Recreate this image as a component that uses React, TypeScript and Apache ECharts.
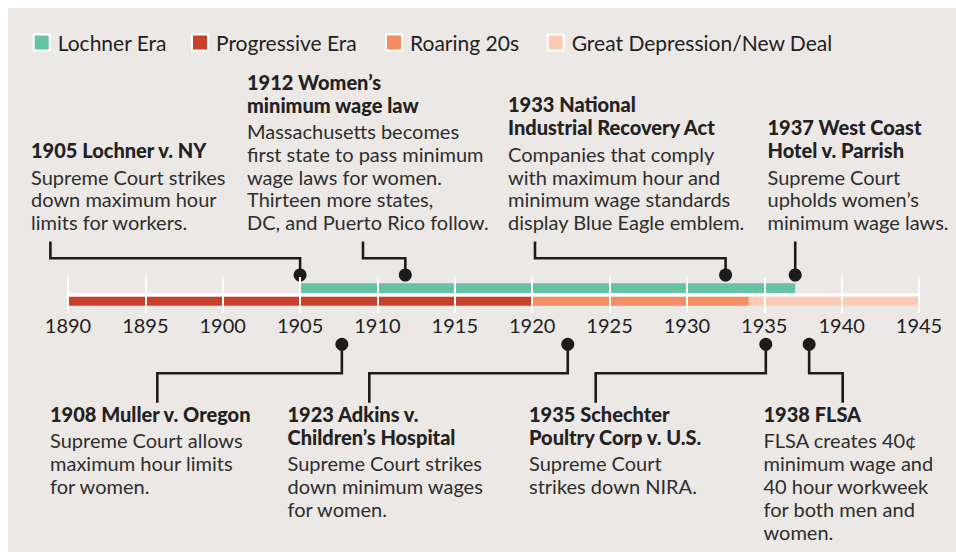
import React, { useEffect, useRef } from "react";
import * as echarts from "echarts";

// ---------- data ----------
const yearMin = 1890;
const yearMax = 1945;
const yearStep = 5;

const eraNames = ["Lochner Era", "Progressive Era", "Roaring 20s", "Great Depression/New Deal"];
const eraStarts = [1905, 1890, 1920, 1934];
const eraEnds = [1937, 1920, 1934, 1945];
const eraRows = [0, 1, 1, 1]; // 0 = upper band, 1 = lower band
const eraColors = ["#66c2a5", "#c8412b", "#f58d64", "#fbcab5"];

const eventYears = [1905.0, 1911.8, 1932.5, 1937.0, 1907.7, 1922.3, 1935.1, 1937.9];
const eventSides = ["top", "top", "top", "top", "bottom", "bottom", "bottom", "bottom"];
const eventTitles = [
  ["1905 Lochner v. NY"],
  ["1912 Women\u2019s", "minimum wage law"],
  ["1933 National", "Industrial Recovery Act"],
  ["1937 West Coast", "Hotel v. Parrish"],
  ["1908 Muller v. Oregon"],
  ["1923 Adkins v.", "Children\u2019s Hospital"],
  ["1935 Schechter", "Poultry Corp v. U.S."],
  ["1938 FLSA"],
];
const eventDescs = [
  ["Supreme Court strikes", "down maximum hour", "limits for workers."],
  ["Massachusetts becomes", "first state to pass minimum", "wage laws for women.", "Thirteen more states,", "DC, and Puerto Rico follow."],
  ["Companies that comply", "with maximum hour and", "minimum wage standards", "display Blue Eagle emblem."],
  ["Supreme Court", "upholds women\u2019s", "minimum wage laws."],
  ["Supreme Court allows", "maximum hour limits", "for women."],
  ["Supreme Court strikes", "down minimum wages", "for women."],
  ["Supreme Court", "strikes down NIRA."],
  ["FLSA creates 40\u00a2", "minimum wage and", "40 hour workweek", "for both men and", "women."],
];

// ---------- layout (pixels inside the chart div) ----------
const W = 948;
const H = 544;
const eventTextX = [23, 239, 500, 759.5, 42, 279.5, 521, 755.5];
const eventElbowX = [42.4, 355, 527, null, 149.3, 361.3, 587.7, 834.7];
const legendLeft = [24.7, 183, 377, 538.7];
const FONT = "Lato";

export default function App() {
  const ref = useRef<HTMLDivElement>(null);

  useEffect(() => {
    if (!ref.current) return;
    const chart = echarts.init(ref.current, null, { renderer: "svg" });

    const gridTop = 269;
    const gridH = 36;
    const upperBand = [6.3, 9.6];
    const lowerBand = [19.6, 9.2];
    const whiteLine = [16.2, 3.2];

    const eraSeries = eraNames.map((name, i) => ({
      type: "custom",
      name,
      itemStyle: { color: eraColors[i] },
      data: [[eraStarts[i], eraEnds[i], eraRows[i]]],
      encode: { x: [0, 1] },
      z: 2,
      renderItem: (params: any, api: any) => {
        const s = api.coord([api.value(0), 0]);
        const e = api.coord([api.value(1), 0]);
        const cs = params.coordSys;
        const band = api.value(2) === 0 ? upperBand : lowerBand;
        return {
          type: "rect",
          shape: { x: s[0], y: cs.y + band[0], width: e[0] - s[0], height: band[1] },
          style: { fill: api.visual("color") },
        };
      },
    }));

    const baselineSeries = {
      type: "custom",
      name: "baseline",
      data: [[yearMin, yearMax]],
      encode: { x: [0, 1] },
      z: 3,
      silent: true,
      renderItem: (params: any, api: any) => {
        const s = api.coord([api.value(0), 0]);
        const e = api.coord([api.value(1), 0]);
        const cs = params.coordSys;
        return {
          type: "rect",
          shape: { x: s[0], y: cs.y + whiteLine[0], width: e[0] - s[0], height: whiteLine[1] },
          style: { fill: "#ffffff" },
        };
      },
    };

    const topDotY = 267;
    const bottomDotY = 336.3;
    const topElbowY = 250.3;
    const topEndY = 233.5;
    const bottomElbowY = 365.3;
    const bottomEndY = 394.7;
    const topLastBaseline = 222;
    const bottomFirstBaseline = 413.7;
    const titleLH = 23;
    const descLH = 22.8;
    const titleGap = 26.5;
    const fs = 20;
    const baseOff = 0.387 * fs;
    const lineColor = "#1c1c1c";

    const eventSeries = {
      type: "custom",
      name: "events",
      data: eventYears.map((y, i) => [y, i]),
      encode: { x: 0 },
      z: 5,
      clip: false,
      silent: true,
      renderItem: (params: any, api: any) => {
        const i = api.value(1);
        const x = api.coord([api.value(0), 0])[0];
        const top = eventSides[i] === "top";
        const titles = eventTitles[i];
        const descs = eventDescs[i];
        const nT = titles.length;
        const nD = descs.length;
        const ex = eventElbowX[i] == null ? x : (eventElbowX[i] as number);
        let titleFirst: number;
        let descFirst: number;
        let pts: number[][];
        if (top) {
          descFirst = topLastBaseline - (nD - 1) * descLH;
          titleFirst = descFirst - titleGap - (nT - 1) * titleLH;
          pts = eventElbowX[i] == null
            ? [[x, topDotY], [x, topEndY]]
            : [[x, topDotY], [x, topElbowY], [ex, topElbowY], [ex, topEndY]];
        } else {
          titleFirst = bottomFirstBaseline;
          descFirst = titleFirst + (nT - 1) * titleLH + titleGap;
          pts = [[x, bottomDotY], [x, bottomElbowY], [ex, bottomElbowY], [ex, bottomEndY]];
        }
        const dotY = top ? topDotY : bottomDotY;
        const tx = eventTextX[i];
        return {
          type: "group",
          children: [
            {
              type: "polyline",
              shape: { points: pts },
              style: { stroke: lineColor, lineWidth: 2.6, fill: "none" },
            },
            {
              type: "circle",
              shape: { cx: x, cy: dotY, r: 6.5 },
              style: { fill: lineColor },
            },
            {
              type: "text",
              x: tx,
              y: titleFirst - baseOff - titleLH / 2,
              style: {
                text: titles.join("\n"),
                fontFamily: FONT,
                fontWeight: 900,
                fontSize: fs,
                lineHeight: titleLH,
                fill: "#222222",
                align: "left",
                verticalAlign: "top",
              },
            },
            {
              type: "text",
              x: tx,
              y: descFirst - baseOff - descLH / 2,
              style: {
                text: descs.join("\n"),
                fontFamily: FONT,
                fontSize: fs,
                lineHeight: descLH,
                fill: "#2e2e2e",
                align: "left",
                verticalAlign: "top",
              },
            },
          ],
        };
      },
    };

    chart.setOption({
      animation: false,
      backgroundColor: "#ece8e5",
      textStyle: { fontFamily: FONT },
      legend: eraNames.map((name, i) => ({
        data: [name],
        left: legendLeft[i],
        top: 24,
        padding: 0,
        icon: "rect",
        itemWidth: 16,
        itemHeight: 16,
        selectedMode: false,
        itemStyle: { borderColor: "#ffffff", borderWidth: 2 },
        textStyle: { fontSize: 21, color: "#222222", fontFamily: FONT, padding: [0, 0, 0, 3] },
      })),
      grid: { left: 60, right: 37, top: gridTop, height: gridH, containLabel: false },
      xAxis: {
        type: "value",
        min: yearMin,
        max: yearMax,
        interval: yearStep,
        z: 10,
        axisLine: { show: false },
        axisTick: { show: false },
        splitLine: { show: true, lineStyle: { color: "#ffffff", width: 2 } },
        axisLabel: {
          fontSize: 20,
          color: "#222222",
          fontFamily: FONT,
          margin: 2,
          formatter: (v: number) => String(v),
        },
      },
      yAxis: {
        type: "value",
        min: 0,
        max: gridH,
        inverse: true,
        show: false,
        splitLine: { show: false },
      },
      series: [...eraSeries, baselineSeries, eventSeries],
    });

    return () => chart.dispose();
  }, []);

  return (
    <div
      ref={ref}
      style={{ position: "absolute", left: 8, top: 8, width: W, height: H }}
    />
  );
}
